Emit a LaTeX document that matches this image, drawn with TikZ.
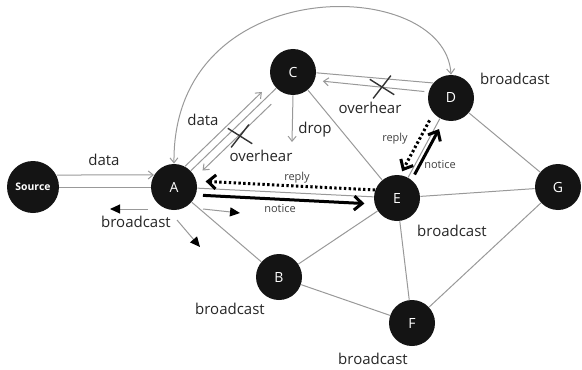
\documentclass[tikz,border=0pt]{standalone}
\usepackage{fontspec}
\setsansfont{Open Sans}
\usetikzlibrary{positioning,arrows.meta,shapes.misc}

\begin{document}
\begin{tikzpicture}[
    x=0.5pt, y=-0.5pt,
    >={Straight Barb[length=2.5pt,width=4pt]},
    font=\sffamily,
    station/.style={
        circle, fill=black!92, draw=none,
        minimum size=23pt, inner sep=0pt,
        font=\fontsize{7}{8}\selectfont\sffamily,
        text=white
    },
    srcnode/.style={
        station, minimum size=26pt,
        font=\fontsize{5.2}{6}\selectfont\sffamily\bfseries
    },
    lbl/.style={
        font=\fontsize{7.5}{9}\selectfont\sffamily,
        text=black!85, inner sep=0pt
    },
    tinylbl/.style={
        font=\fontsize{5.5}{6}\selectfont\sffamily,
        text=black!75, inner sep=0pt
    },
    link/.style={
        draw=black!40, line width=0.5pt
    },
    msg/.style={
        link, ->
    },
    ctrl/.style={
        draw=black, line width=1.5pt,
        -{Straight Barb[length=4pt,width=7pt]}
    },
    ctrldot/.style={
        ctrl, dash pattern=on 1.2pt off 1.2pt
    },
    bcast/.style={
        link, -{Triangle[length=5pt,width=4.5pt,color=black]}
    },
    xmark/.style={
        cross out, draw=black!80, line width=0.7pt,
        minimum width=10pt, minimum height=9pt, inner sep=0pt
    }
]
\useasboundingbox (0,0) rectangle (582,369);

\node[srcnode] (src) at (33,187) {Source};
\node[station] (A) at (174,187) {A};
\node[station] (C) at (293,72) {C};
\node[station] (D) at (451,98) {D};
\node[station] (E) at (397,198) {E};
\node[station] (G) at (558,187) {G};
\node[station] (B) at (279,277) {B};
\node[station] (F) at (412,323) {F};

\coordinate (dropend) at (292,142);
\coordinate (bA1) at (148,209);
\coordinate (bA2) at (110,209);
\coordinate (bA3) at (203,209);
\coordinate (bA4) at (240,213);
\coordinate (bA5) at (177,220);
\coordinate (bA6) at (200,247);

\draw[link] (src) -- (A);
\draw[link] (A) -- (C);
\draw[link] (C) -- (E);
\draw[link] (C.-2) -- (D.140);
\draw[link] (A) -- (E);
\draw[link] (D) -- (E);
\draw[link] (D) -- (G);
\draw[link] (E) -- (G);
\draw[link] (E) -- (B);
\draw[link] (E) -- (F);
\draw[link] (A) -- (B);
\draw[link] (B) -- (F);
\draw[link] (F) -- (G);

\draw[msg] (src.27) -- (A.149);
\draw[msg, shorten >=7pt] (A.62) -- (C.206);
\draw[msg, shorten <=8pt, shorten >=5pt] (C.244) -- (A.24);
\draw[msg] (C.south) -- (dropend);
\draw[msg, shorten <=2pt, shorten >=4pt] (D.165) -- (C.-21);
\draw[msg, <->]
    (A.north) .. controls (172,-30) and (445,-25) .. (D.north);

\node[xmark, rotate=10] (xAC) at (240,136) {};
\node[xmark, rotate=10] (xCD) at (382,87) {};

\draw[ctrldot, shorten >=4.5pt] (E.160) -- (A.15);
\draw[ctrl, shorten <=3.5pt, shorten >=5pt] (A.-20) -- (E.195);
\draw[ctrldot, shorten <=4pt, shorten >=2pt] (D.221) -- (E.82);
\draw[ctrl, shorten <=3pt, shorten >=5pt] (E.51) -- (D.252);

\draw[bcast] (bA1) -- (bA2);
\draw[bcast] (bA3) -- (bA4);
\draw[bcast] (bA5) -- (bA6);

\node[lbl] (ldata1) at (104,160) {data};
\node[lbl] (lbcA) at (136,222) {broadcast};
\node[lbl] (ldata2) at (203,120) {data};
\node[lbl] (lovAC) at (261,156) {overhear};
\node[lbl] (ldrop) at (315,130) {drop};
\node[lbl] (lovCD) at (370,108) {overhear};
\node[lbl] (lbcD) at (515,79) {broadcast};
\node[lbl] (lbcE) at (452,231) {broadcast};
\node[lbl] (lbcB) at (230,309) {broadcast};
\node[lbl] (lbcF) at (373,359) {broadcast};

\node[tinylbl] (lrepDE) at (395,139) {reply};
\node[tinylbl] (lnotDE) at (440,165) {notice};
\node[tinylbl] (lrepAE) at (297,178) {reply};
\node[tinylbl] (lnotAE) at (280,209) {notice};

\end{tikzpicture}
\end{document}
